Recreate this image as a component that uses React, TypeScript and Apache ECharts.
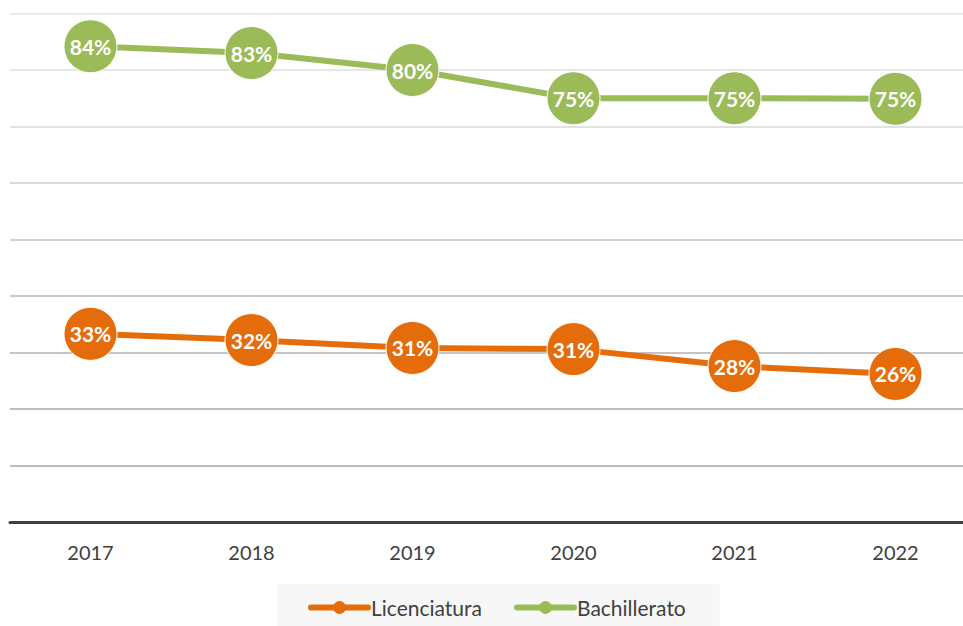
import React, { useEffect, useRef } from "react";
import * as echarts from "echarts";

const years = ["2017", "2018", "2019", "2020", "2021", "2022"];
const licenciatura = [33.3, 32.2, 30.8, 30.6, 27.6, 26.2];
const bachillerato = [84.2, 83.0, 80.0, 75.0, 75.0, 74.9];
const gridColors = ["#a6a6a6", "#a6a6a6", "#aaaaaa", "#b0b0b0", "#b9b9b9", "#c4c4c4", "#cfcfcf", "#d8d8d8", "#dfdfdf", "#e3e3e3"];

const FONT = "Lato";

export default function App() {
  const ref = useRef<HTMLDivElement>(null);
  useEffect(() => {
    const chart = echarts.init(ref.current!, null, { renderer: "svg" });
    const label = {
      show: true,
      position: "inside",
      color: "#ffffff",
      fontFamily: FONT,
      fontWeight: "bold",
      fontSize: 21,
      formatter: (p: any) => Math.round(p.value) + "%",
    };
    chart.setOption({
      animation: false,
      backgroundColor: "#ffffff",
      grid: { left: 10, top: 13.5, width: 966, bottom: 104, containLabel: false },
      xAxis: {
        type: "category",
        data: years,
        boundaryGap: true,
        axisLine: { show: true, lineStyle: { color: "#404040", width: 3 } },
        axisTick: { show: false },
        axisLabel: { color: "#404040", fontFamily: FONT, fontSize: 20, margin: 20 },
      },
      yAxis: {
        type: "value",
        min: 0,
        max: 90,
        interval: 10,
        axisLabel: { show: false },
        axisLine: { show: false },
        axisTick: { show: false },
        splitLine: { show: true, lineStyle: { color: gridColors, width: 1.5 } },
      },
      legend: {
        left: 277,
        top: 584,
        backgroundColor: "#f7f7f7",
        padding: [13, 34, 13, 31],
        itemWidth: 57,
        itemHeight: 16,
        itemGap: 32,
        lineStyle: { width: 6, cap: "round" },
        itemStyle: { borderWidth: 0 },
        textStyle: { color: "#404040", fontFamily: FONT, fontSize: 21, padding: [0, 0, 0, -2] },
        data: ["Licenciatura", "Bachillerato"],
      },
      series: [
        {
          name: "Licenciatura",
          type: "line",
          data: licenciatura,
          symbol: "circle",
          symbolSize: 53,
          lineStyle: { color: "#E46C0A", width: 6 },
          itemStyle: { color: "#E46C0A", borderColor: "#ffffff", borderWidth: 1 },
          label,
          z: 3,
        },
        {
          name: "Bachillerato",
          type: "line",
          data: bachillerato,
          symbol: "circle",
          symbolSize: 53,
          lineStyle: { color: "#9BBB59", width: 6 },
          itemStyle: { color: "#9BBB59", borderColor: "#ffffff", borderWidth: 1 },
          label,
          z: 3,
        },
      ],
    });
    return () => chart.dispose();
  }, []);
  return (
    <div style={{ width: 963, height: 626, position: "absolute", left: 0, top: 0, overflow: "hidden" }}>
      <div ref={ref} style={{ width: 990, height: 626 }} />
    </div>
  );
}
